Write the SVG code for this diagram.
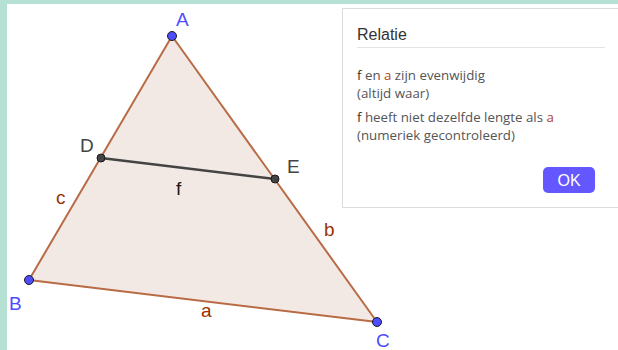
<svg xmlns="http://www.w3.org/2000/svg" width="618" height="350" viewBox="0 0 618 350">
<style>
.pt{fill:#4d4dff;stroke:#1a1a1a;stroke-width:1}
.pd{fill:#444;stroke:#1a1a1a;stroke-width:1}
.lblP{font-family:"Liberation Sans",Arial,sans-serif;font-size:19px;fill:#4d4dff}
.lblD{font-family:"Liberation Sans",Arial,sans-serif;font-size:19px;fill:#444}
.lblS{font-family:"Liberation Sans",Arial,sans-serif;font-size:19px;fill:#993300}
.dlg{font-family:"Open Sans","Liberation Sans",sans-serif;font-size:13.3px;fill:#555}
.br{fill:#b5461a}
</style>
<rect x="0" y="0" width="618" height="350" fill="#b5e0d4"/>
<rect x="7" y="4" width="611" height="346" fill="#ffffff"/>
<g id="triangle">
<polygon points="172,36 29,280 377,322" fill="#f3e9e4" stroke="#b86b45" stroke-width="2" stroke-linejoin="round"/>
</g>
<g id="connectors">
<line x1="101" y1="158" x2="275" y2="179" stroke="#444" stroke-width="2.5"/>
</g>
<g id="A"><circle class="pt" cx="172" cy="36" r="4.5"/><text class="lblP" x="176" y="26">A</text></g>
<g id="B"><circle class="pt" cx="29" cy="280" r="4.5"/><text class="lblP" x="9" y="310">B</text></g>
<g id="C"><circle class="pt" cx="377" cy="322" r="4.5"/><text class="lblP" x="376" y="347">C</text></g>
<g id="D"><circle class="pd" cx="101" cy="158" r="4"/><text class="lblD" x="80" y="152">D</text></g>
<g id="E"><circle class="pd" cx="275" cy="179" r="4"/><text class="lblD" x="287" y="173">E</text></g>
<g id="labels">
<text class="lblS" x="56" y="204">c</text>
<text class="lblS" x="324" y="236">b</text>
<text class="lblS" x="201" y="317">a</text>
<text x="176" y="195" font-family="Liberation Sans,Arial,sans-serif" font-size="19px" fill="#1a1a1a">f</text>
</g>
<g id="dialog">
<rect x="342.5" y="8.5" width="290" height="199" fill="#fff" stroke="#dcdcdc" stroke-width="1"/>
<text x="357" y="40" font-family="Liberation Sans,Arial,sans-serif" font-size="16px" fill="#333">Relatie</text>
<line x1="357" y1="47.5" x2="605" y2="47.5" stroke="#e3e3e3" stroke-width="1"/>
<text class="dlg" x="357" y="80"><tspan fill="#333">f</tspan> en <tspan class="br">a</tspan> zijn evenwijdig</text>
<text class="dlg" x="357" y="98">(altijd waar)</text>
<text class="dlg" x="357" y="122"><tspan fill="#333">f</tspan> heeft niet dezelfde lengte als <tspan class="br">a</tspan></text>
<text class="dlg" x="357" y="140">(numeriek gecontroleerd)</text>
<g id="ok"><rect x="543" y="167" width="52" height="26" rx="5" fill="#6557ff"/>
<text x="569" y="186" text-anchor="middle" font-family="Liberation Sans,Arial,sans-serif" font-size="16px" fill="#fff">OK</text></g>
</g>
</svg>
